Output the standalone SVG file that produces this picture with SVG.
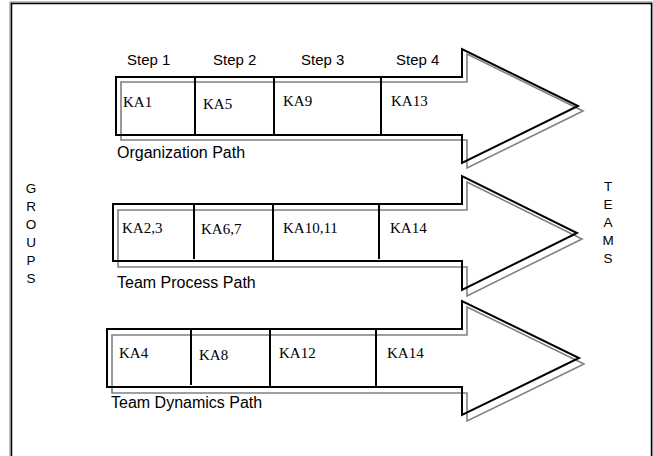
<svg xmlns="http://www.w3.org/2000/svg" width="653" height="456" viewBox="0 0 653 456">
<style>
.shadow{fill:none;stroke:#808080;stroke-width:1.6}
.outline{fill:none;stroke:#000;stroke-width:2}
.div{stroke:#000;stroke-width:2}
.ka{font-family:"Liberation Serif","Times New Roman",serif;font-size:15px;fill:#000}
.lbl{font-family:"Liberation Sans",Arial,sans-serif;font-size:16px;fill:#000}
.step{font-family:"Liberation Sans",Arial,sans-serif;font-size:15px;fill:#000}
.side{font-family:"Liberation Sans",Arial,sans-serif;font-size:13.5px;fill:#000;text-anchor:middle}
</style>
<defs>
<path id="arrow1" d="M116,77 H462 V49 L578,106 L462,163 V135 H116 Z"/>
<path id="arrow2" d="M113,204 H462 V176 L577,233 L462,290 V261 H113 Z"/>
<path id="arrow3" d="M107,329 H462 V301 L579,358 L462,415 V387 H107 Z"/>
</defs>
<rect width="653" height="456" fill="#fff"/>
<g id="frame">
<rect x="10" y="2" width="642" height="480" fill="none" stroke="#808080" stroke-width="1"/>
<rect x="11.5" y="3.5" width="640" height="480" fill="none" stroke="#000" stroke-width="1.5"/>
</g>
<g id="steps">
<text class="step" x="127" y="65">Step 1</text>
<text class="step" x="213" y="65">Step 2</text>
<text class="step" x="301" y="65">Step 3</text>
<text class="step" x="396" y="65">Step 4</text>
</g>
<g id="organization-path">
<use href="#arrow1" class="shadow" transform="translate(5,5)"/>
<use href="#arrow1" class="outline"/>
<line class="div" x1="195" y1="77" x2="195" y2="135"/>
<line class="div" x1="274" y1="77" x2="274" y2="135"/>
<line class="div" x1="381" y1="77" x2="381" y2="135"/>
<text class="ka" x="123" y="107">KA1</text>
<text class="ka" x="203" y="109">KA5</text>
<text class="ka" x="283" y="106">KA9</text>
<text class="ka" x="391" y="106">KA13</text>
<text class="lbl" x="117" y="158">Organization Path</text>
</g>
<g id="team-process-path">
<use href="#arrow2" class="shadow" transform="translate(5,6)"/>
<use href="#arrow2" class="outline"/>
<line class="div" x1="194" y1="204" x2="194" y2="259"/>
<line class="div" x1="273" y1="204" x2="273" y2="261"/>
<line class="div" x1="379" y1="204" x2="379" y2="259"/>
<text class="ka" x="122" y="233">KA2,3</text>
<text class="ka" x="201" y="234">KA6,7</text>
<text class="ka" x="283" y="233">KA10,11</text>
<text class="ka" x="390" y="233">KA14</text>
<text class="lbl" x="117" y="288">Team Process Path</text>
</g>
<g id="team-dynamics-path">
<use href="#arrow3" class="shadow" transform="translate(5,6)"/>
<use href="#arrow3" class="outline"/>
<line class="div" x1="191" y1="329" x2="191" y2="385"/>
<line class="div" x1="270" y1="329" x2="270" y2="387"/>
<line class="div" x1="376" y1="329" x2="376" y2="387"/>
<text class="ka" x="119" y="358">KA4</text>
<text class="ka" x="199" y="360">KA8</text>
<text class="ka" x="279" y="358">KA12</text>
<text class="ka" x="387" y="358">KA14</text>
<text class="lbl" x="111" y="408">Team Dynamics Path</text>
</g>
<g id="groups-label">
<text class="side"><tspan x="31" y="193">G</tspan><tspan x="31" y="211">R</tspan><tspan x="31" y="229">O</tspan><tspan x="31" y="247">U</tspan><tspan x="31" y="265">P</tspan><tspan x="31" y="283">S</tspan></text>
</g>
<g id="teams-label">
<text class="side"><tspan x="608" y="191">T</tspan><tspan x="608" y="209">E</tspan><tspan x="608" y="227">A</tspan><tspan x="608" y="245">M</tspan><tspan x="608" y="263">S</tspan></text>
</g>
<g id="connectors"/>
</svg>
